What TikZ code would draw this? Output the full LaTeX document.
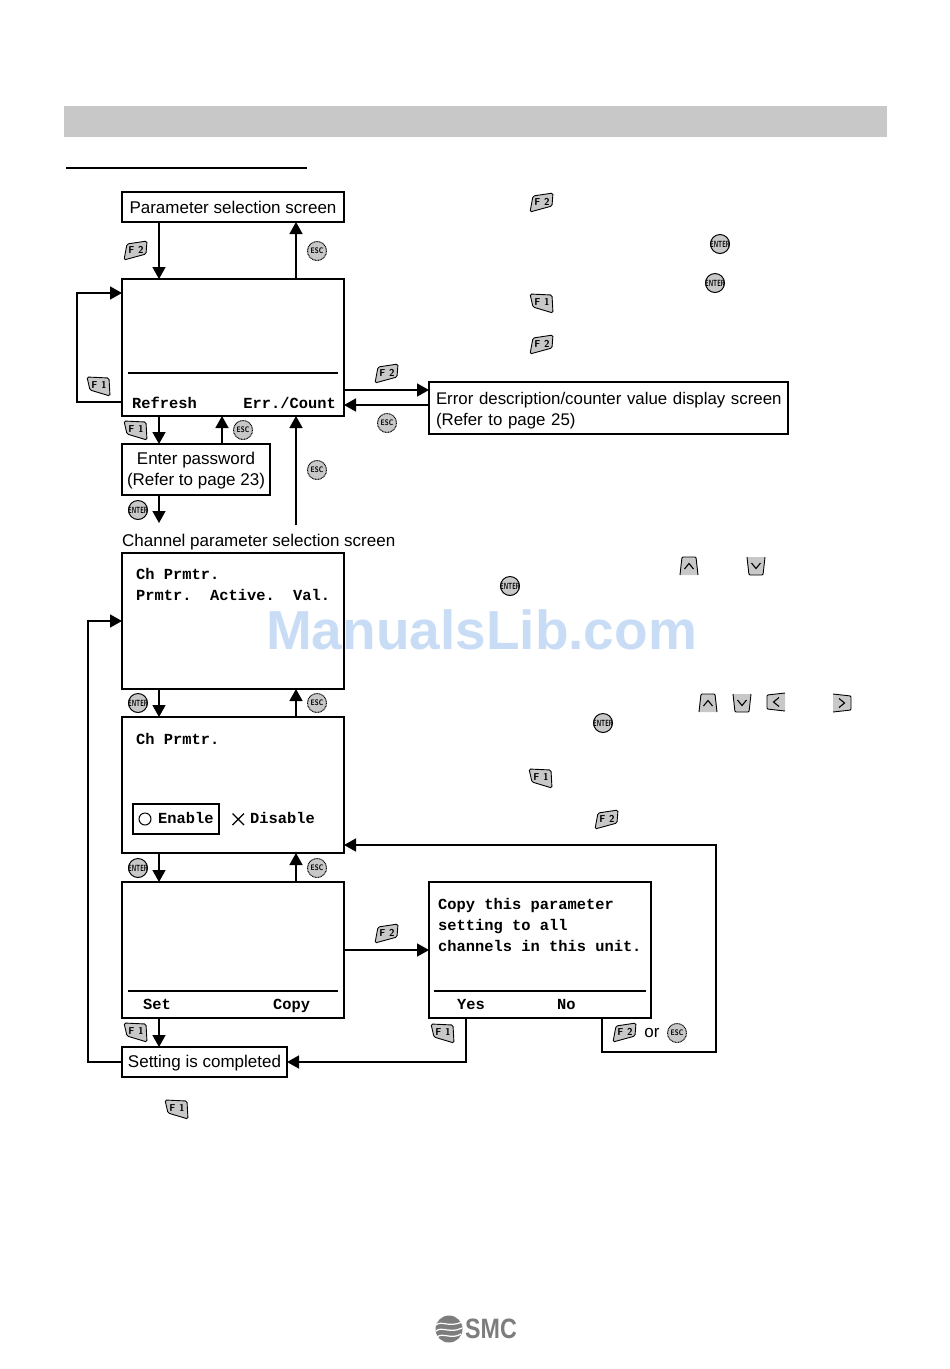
\documentclass[tikz,border=0pt]{standalone}
\usepackage{fontspec}
\setmainfont{Liberation Sans}
\newfontfamily\lcdfont{Liberation Mono}
\usetikzlibrary{arrows.meta}
\definecolor{keygray}{RGB}{200,200,200}
\definecolor{bandgray}{RGB}{200,200,200}
\definecolor{markblue}{RGB}{200,221,245}
\definecolor{logogray}{RGB}{125,125,125}
\tikzset{
  scrbox/.style={draw=black,line width=1.6pt,inner sep=0pt,outer sep=0pt,anchor=north west},
  flow/.style={line width=1.6pt,line join=miter,-{Triangle[length=12pt,width=13pt]}},
  rule/.style={line width=1.6pt},
  lcd/.style={font=\lcdfont\bfseries\fontsize{15.4}{18}\selectfont,inner sep=0pt,anchor=base west},
  lbl/.style={font=\fontsize{17}{21}\selectfont,inner sep=0pt},
  pics/fkeya/.style={code={
    \draw[fill=keygray,line width=.9pt,rounded corners=1.5pt] (-9,-7) -- (11,-10) -- (10,3) -- (-12,9) -- cycle;
    \node[font=\sffamily\bfseries\fontsize{10}{10}\selectfont,inner sep=0pt] (-txt) at (0,-1.5) {F 2};
  }},
  pics/fkeyb/.style={code={
    \draw[fill=keygray,line width=.9pt,rounded corners=1.5pt] (-12,-9) -- (10,-8) -- (11,10) -- (-9,4) -- cycle;
    \node[font=\sffamily\bfseries\fontsize{10}{10}\selectfont,inner sep=0pt] (-txt) at (0,-1.5) {F 1};
  }},
  pics/escbtn/.style={code={
    \fill[keygray] (0,0) circle (10);
    \draw[line width=1pt,dash pattern=on .9pt off .7pt] (0,0) circle (9.5);
    \node[font=\sffamily\bfseries\fontsize{8}{8}\selectfont,inner sep=0pt,xscale=.8] (-txt) at (0,0) {ESC};
  }},
  pics/entbtn/.style={code={
    \draw[fill=keygray,line width=1pt] (0,0) circle (9.5);
    \node[font=\sffamily\bfseries\fontsize{9}{9}\selectfont,inner sep=0pt,xscale=.62] (-txt) at (0,0) {ENTER};
  }},
  pics/arrkey/.style={code={
    \begin{scope}[rotate=#1]
    \fill[keygray] (-9,9) -- (9,9) -- (7,-9) -- (-7,-9) -- cycle;
    \draw[line width=.9pt,rounded corners=1pt] (-9,9) -- (-7,-9) -- (7,-9) -- (9,9);
    \draw[line width=1.1pt] (-4.5,3) -- (0,-2.5) -- (4.5,3);
    \end{scope}
  }},
}
\begin{document}
\begin{tikzpicture}[x=1pt,y=-1pt,line cap=butt]
\useasboundingbox (0,0) rectangle (950,1369);
% page furniture
\fill[bandgray] (64,106) rectangle (887,137);
\draw[line width=1.2pt] (66,168) -- (307,168);
\node[font=\bfseries\fontsize{55}{60}\selectfont,text=markblue,inner sep=0pt] (wmark) at (481.5,630) {ManualsLib.com};
% screens
\node[scrbox,lbl,minimum width=222pt,minimum height=30pt] (param) at (122,192) {Parameter selection screen};
\node[scrbox,minimum width=222pt,minimum height=137pt] (main) at (122,279) {};
\node[scrbox,lbl,font=\fontsize{16.85}{21}\selectfont,minimum width=359pt,minimum height=52pt,text width=345pt,align=left] (errbox) at (429,382) {\rule{0pt}{17pt}\makebox[345pt][l]{Error description/counter value display screen}\\(Refer to page 25)};
\node[scrbox,lbl,minimum width=148pt,minimum height=51pt,align=center] (pwd) at (122,444) {\rule{0pt}{15pt}Enter password\\(Refer to page 23)};
\node[lbl,anchor=west] (chlabel) at (122,542) {Channel parameter selection screen};
\node[scrbox,minimum width=222pt,minimum height=136pt] (chsel) at (122,553) {};
\node[scrbox,minimum width=222pt,minimum height=136pt] (chedit) at (122,717) {};
\node[scrbox,minimum width=222pt,minimum height=136pt] (chset) at (122,882) {};
\node[scrbox,minimum width=222pt,minimum height=136pt] (copybox) at (429,882) {};
\node[scrbox,lbl,text height=12pt,text depth=.5pt,minimum width=165pt,minimum height=30pt] (done) at (122,1047) {Setting is completed};
\node[scrbox,minimum width=86pt,minimum height=30pt] (enbox) at (133,804) {};
% screen contents
\draw[rule] (128,373) -- (338,373);
\draw[rule] (128,991) -- (338,991);
\draw[rule] (434,991) -- (646,991);
\node[lcd] (trefresh) at (132,408.5) {Refresh};
\node[lcd,anchor=base east] (terr) at (336,408.5) {Err./Count};
\node[lcd] (tcha) at (136,579) {Ch Prmtr.};
\node[lcd] (tchb) at (136,600) {Prmtr.};
\node[lcd] (tchc) at (210,600) {Active.};
\node[lcd] (tchd) at (293,600) {Val.};
\node[lcd] (tche) at (136,744) {Ch Prmtr.};
\node[lcd] (tena) at (158,823) {Enable};
\node[lcd] (tdis) at (250,823) {Disable};
\draw[line width=1pt] (145,819) circle (6);
\draw[line width=1.1pt] (232.5,813.5) -- (244,825) (244,813.5) -- (232.5,825);
\node[lcd] (tset) at (143,1009) {Set};
\node[lcd] (tcopy) at (273,1009) {Copy};
\node[lcd] (tcpa) at (438,909) {Copy this parameter};
\node[lcd] (tcpb) at (438,930) {setting to all};
\node[lcd] (tcpc) at (438,951) {channels in this unit.};
\node[lcd] (tyes) at (457,1009) {Yes};
\node[lcd] (tno) at (557,1009) {No};
\node[lbl] (tor) at (652,1033) {or};
% connector positions
\coordinate (xl) at (159,0);
\coordinate (xr) at (296,0);
\coordinate (xp) at (222,0);
\coordinate (ploopa) at (77,402);
\coordinate (ploopb) at (77,293);
\coordinate (pout) at (159,523);
\coordinate (pin) at (296,525);
\coordinate (ploopc) at (88,1062);
\coordinate (ploopd) at (88,621);
\coordinate (pyesa) at (466,1018);
\coordinate (pyesb) at (466,1062);
\coordinate (pnoa) at (602,1018);
\coordinate (pnob) at (602,1052);
\coordinate (pnoc) at (716,1052);
\coordinate (pnod) at (716,845);
% connectors
\draw[flow] (param.south -| xl) -- (main.north -| xl);
\draw[flow] (main.north -| xr) -- (param.south -| xr);
\draw[flow] (ploopa -| main.west) -- (ploopa) -- (ploopb) -- (ploopb -| main.west);
\draw[flow] (main.east |- 0,390) -- (errbox.west |- 0,390);
\draw[flow] (errbox.west |- 0,405) -- (main.east |- 0,405);
\draw[flow] (main.south -| xl) -- (pwd.north -| xl);
\draw[flow] (pwd.north -| xp) -- (main.south -| xp);
\draw[flow] (pwd.south -| xl) -- (pout);
\draw[flow] (pin) -- (main.south -| xr);
\draw[flow] (chsel.south -| xl) -- (chedit.north -| xl);
\draw[flow] (chedit.north -| xr) -- (chsel.south -| xr);
\draw[flow] (chedit.south -| xl) -- (chset.north -| xl);
\draw[flow] (chset.north -| xr) -- (chedit.south -| xr);
\draw[flow] (chset.east |- 0,950) -- (copybox.west |- 0,950);
\draw[flow] (chset.south -| xl) -- (done.north -| xl);
\draw[flow] (pyesa) -- (pyesb) -- (done.east |- pyesb);
\draw[flow] (done.west |- ploopc) -- (ploopc) -- (ploopd) -- (chsel.west |- ploopd);
\draw[flow] (pnoa) -- (pnob) -- (pnoc) -- (pnod) -- (chedit.east |- pnod);
% keys
\foreach \n/\x/\y in {fa/136/251,fb/387/374,fc/542/203,fd/542/345,fe/607/820,ff/387/934,fg/625/1033}
  \pic (\n) at (\x,\y) {fkeya};
\foreach \n/\x/\y in {ga/99/386,gb/136/430,gc/542/303,gd/541/778,ge/136/1032,gf/443/1033,gg/177/1109}
  \pic (\n) at (\x,\y) {fkeyb};
\foreach \n/\x/\y in {ea/317/251,eb/387/423,ec/243/430,ed/317/470,ee/317/703,ef/317/868,eg/677/1033}
  \pic (\n) at (\x,\y) {escbtn};
\foreach \n/\x/\y in {na/138/510,nb/720/244,nc/715/283,nd/510/586,ne/138/703,nf/603/723,ng/138/868}
  \pic (\n) at (\x,\y) {entbtn};
\foreach \n/\x/\y/\r in {aa/689/566/0,ab/756/566/180,ac/708/703/0,ad/742/703/180,ae/776/702/90,af/842/703/-90}
  \pic (\n) at (\x,\y) {arrkey=\r};
% logo
\fill[logogray] (449,1329) circle (13.5);
\draw[white,line width=1.2pt] (436,1325) .. controls (442,1320) and (448,1328) .. (462,1322);
\draw[white,line width=1.2pt] (436,1331) .. controls (442,1326) and (450,1334) .. (462,1328);
\draw[white,line width=1.2pt] (437,1337) .. controls (443,1332) and (451,1340) .. (461,1334);
\node[font=\bfseries\fontsize{28}{28}\selectfont,text=logogray,inner sep=0pt,anchor=west,xscale=.83] (smc) at (465,1329) {SMC};
\end{tikzpicture}
\end{document}
